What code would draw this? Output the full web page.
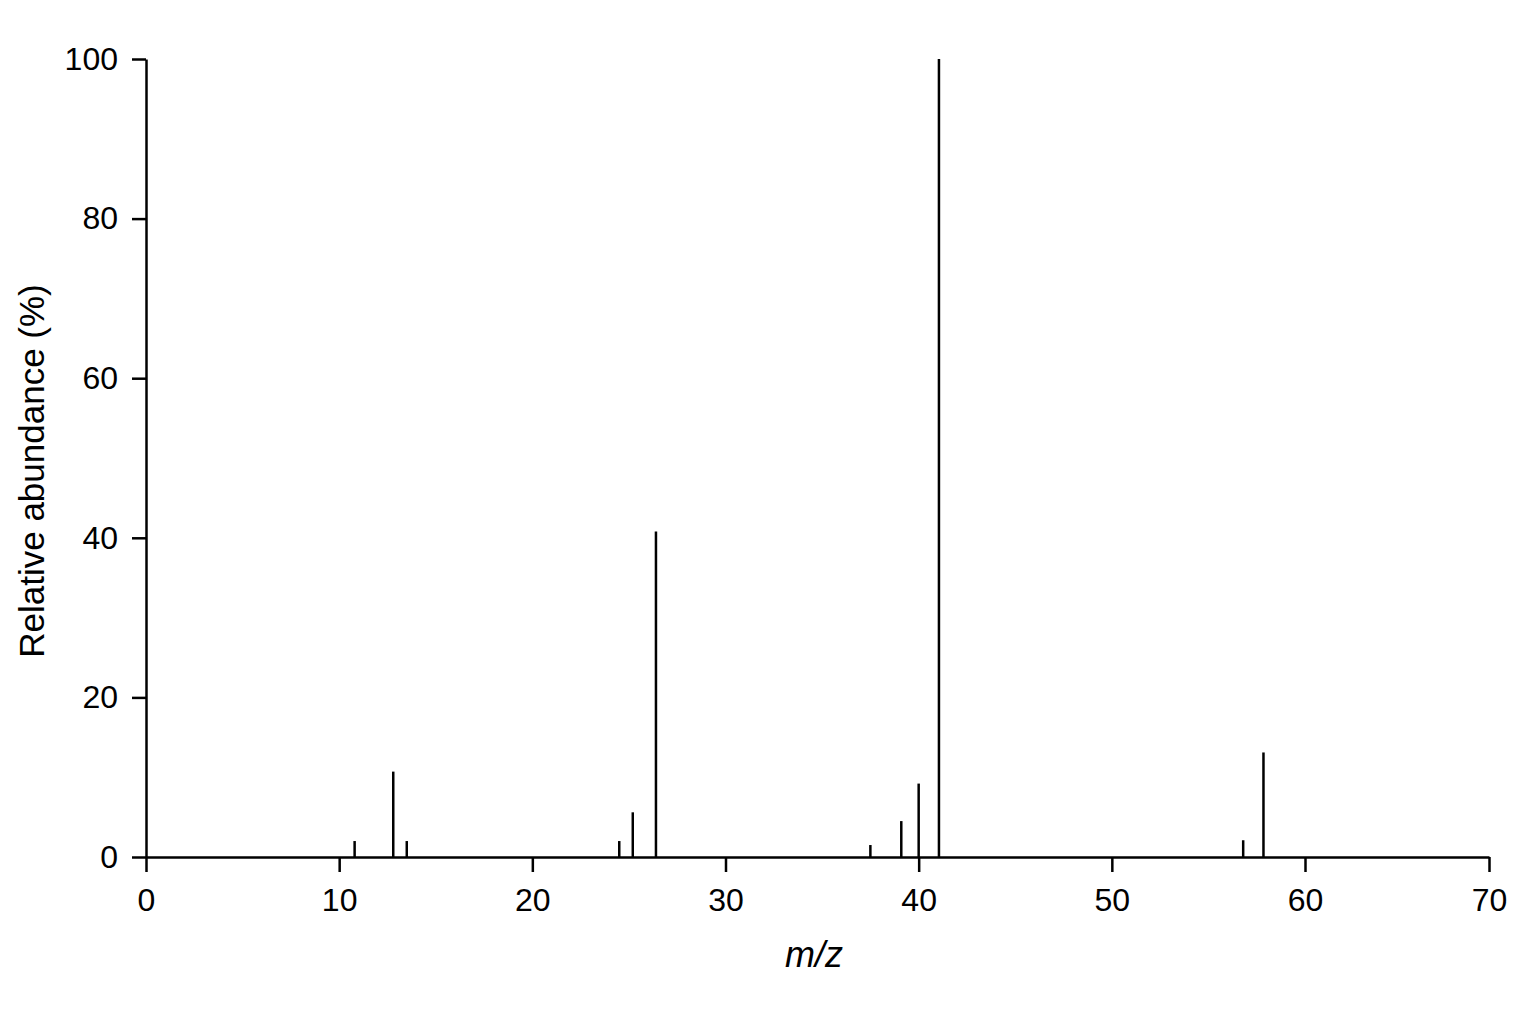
<!DOCTYPE html>
<html>
<head>
<meta charset="utf-8">
<script src="https://cdn.jsdelivr.net/npm/d3@7"></script>
<style>
	body { margin: 0; background: #fff; }
	#chart { width: 1536px; height: 1024px; }
	.axis text { font-family: "Liberation Sans", Arial, sans-serif; font-size: 32px; fill: #000; }
	.axis path, .axis line { stroke: #000; stroke-width: 2.5; }
	.axis-label { font-family: "Liberation Sans", Arial, sans-serif; font-size: 35px; fill: #000; }
</style>
</head>
<body>
<div id="chart"></div>
<script>
// peaks
const mz = [10.8, 12.8, 13.5, 24.5, 25.2, 26.4, 37.5, 39.1, 40.0, 41.05, 56.8, 57.85];
const abundance = [2.0, 10.7, 2.0, 2.0, 5.6, 40.8, 1.5, 4.5, 9.2, 100, 2.1, 13.1];
const xTicks = [0, 10, 20, 30, 40, 50, 60, 70];
const yTicks = [0, 20, 40, 60, 80, 100];

const width = 1536;
const height = 1024;
const margin = { top: 59, right: 47, bottom: 167, left: 146 };

const svg = d3
	.select("#chart")
	.append("svg")
	.attr("width", width)
	.attr("height", height);

// the last decade of the original axis is a little shorter than the others
const xScale = d3
	.scaleLinear()
	.domain([0, 60, 70])
	.range([margin.left, 1305, width - margin.right]);

const yScale = d3
	.scaleLinear()
	.domain([0, 100])
	.range([height - margin.bottom, margin.top]);

// draw peaks
svg.selectAll(".peak")
	.data(mz)
	.enter()
	.append("line")
	.attr("class", "peak")
	.attr("x1", (d) => xScale(d))
	.attr("x2", (d) => xScale(d))
	.attr("y1", yScale(0))
	.attr("y2", (d, i) => yScale(abundance[i]))
	.attr("stroke", "#000")
	.attr("stroke-width", 2.5);

// draw axes
const xAxis = d3
	.axisBottom()
	.scale(xScale)
	.tickValues(xTicks)
	.tickSize(15)
	.tickSizeOuter(0)
	.tickPadding(16);
svg.append("g")
	.attr("class", "axis")
	.attr("transform", `translate(0, ${height - margin.bottom})`)
	.call(xAxis);

const yAxis = d3
	.axisLeft()
	.scale(yScale)
	.tickValues(yTicks)
	.tickSize(14)
	.tickSizeOuter(0)
	.tickPadding(14);
svg.append("g")
	.attr("class", "axis")
	.attr("transform", `translate(${margin.left}, 0)`)
	.call(yAxis);

// axis labels
const xLabel = svg
	.append("text")
	.attr("class", "axis-label")
	.attr("x", 814)
	.attr("y", 967)
	.attr("text-anchor", "middle")
	.style("font-style", "italic")
	.style("font-size", "36px")
	.text("m/z");

const yLabel = svg
	.append("text")
	.attr("class", "axis-label")
	.attr("transform", "translate(44, 471) rotate(-90)")
	.attr("text-anchor", "middle")
	.text("Relative abundance (%)");
</script>
</body>
</html>
